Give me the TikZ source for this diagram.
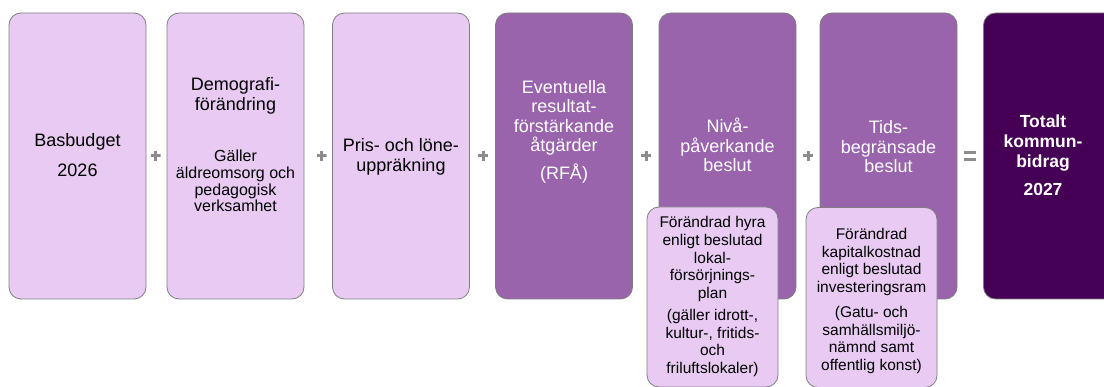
\documentclass[tikz,border=0pt]{standalone}
\usepackage{fontspec}
\setmainfont{Liberation Sans}
\definecolor{lilac}{HTML}{E8CAF3}
\definecolor{midpurple}{HTML}{9A64AD}
\definecolor{darkpurple}{HTML}{450055}
\definecolor{edgegray}{HTML}{7F7F7F}
\definecolor{signgray}{HTML}{8C8C8C}
\begin{document}
\begin{tikzpicture}[x=1pt,y=-1pt,
  mainbox/.style={rounded corners=12pt, draw=edgegray, line width=0.8pt, minimum width=137pt, minimum height=286pt, inner sep=0pt},
  lightbox/.style={mainbox, fill=lilac},
  midbox/.style={mainbox, fill=midpurple},
  darkbox/.style={mainbox, fill=darkpurple},
  subbox/.style={rounded corners=12pt, draw=edgegray, line width=0.8pt, fill=lilac, minimum width=131pt, minimum height=180pt, inner sep=0pt},
  bigtxt/.style={align=center, font=\fontsize{18}{19.5}\selectfont, inner sep=0pt},
  midtxt/.style={align=center, font=\fontsize{16}{16.8}\selectfont, inner sep=0pt},
  smalltxt/.style={align=center, font=\fontsize{15.5}{17.7}\selectfont, inner sep=0pt},
  plussign/.style={minimum size=10pt, inner sep=0pt, path picture={\draw[line width=3pt, signgray] (path picture bounding box.north) -- (path picture bounding box.south) (path picture bounding box.west) -- (path picture bounding box.east);}},
  eqsign/.style={minimum width=12pt, minimum height=10pt, inner sep=0pt, path picture={\draw[line width=3pt, signgray] ([yshift=-1.5pt]path picture bounding box.north west) -- ([yshift=-1.5pt]path picture bounding box.north east) ([yshift=1.5pt]path picture bounding box.south west) -- ([yshift=1.5pt]path picture bounding box.south east);}}
]
\useasboundingbox (0,0) rectangle (1104,387);
\begin{scope}
\clip (0,0) rectangle (1104,387);
% main boxes
\node[lightbox] (b1) at (77.5,156) {};
\node[lightbox] (b2) at (235.5,156) {};
\node[lightbox] (b3) at (401,156) {};
\node[midbox] (b4) at (564,156) {};
\node[midbox] (b5) at (727.5,156) {};
\node[midbox] (b6) at (888.5,156) {};
\node[darkbox] (b7) at (1052,156) {};
% sub boxes
\node[subbox] (s1) at (712.5,297) {};
\node[subbox] (s2) at (871.5,297.5) {};
\end{scope}
% texts
\node[bigtxt] (t1a) at (77.5,142) {Basbudget};
\node[bigtxt] (t1b) at (77.5,170) {2026};
\node[bigtxt] (t2a) at (235.5,96) {Demografi-\\förändring};
\node[midtxt] (t2b) at (235.5,181) {Gäller\\äldreomsorg och\\pedagogisk\\verksamhet};
\node[bigtxt] (t3) at (401,157) {Pris- och löne-\\uppräkning};
\node[bigtxt, text=white] (t4a) at (564,118) {Eventuella\\resultat-\\förstärkande\\åtgärder};
\node[bigtxt, text=white] (t4b) at (564,174) {(RFÅ)};
\node[bigtxt, text=white] (t5) at (727.5,145) {Nivå-\\påverkande\\beslut};
\node[bigtxt, text=white] (t6) at (888.5,147) {Tids-\\begränsade\\beslut};
\node[bigtxt, text=white, font=\bfseries\fontsize{17.5}{19.8}\selectfont] (t7a) at (1043,143) {Totalt\\kommun-\\bidrag};
\node[bigtxt, text=white, font=\bfseries\fontsize{17.5}{19.8}\selectfont] (t7b) at (1043,189) {2027};
\node[smalltxt] (s1a) at (712.5,259) {Förändrad hyra\\enligt beslutad\\lokal-\\försörjnings-\\plan};
\node[smalltxt] (s1b) at (712.5,343) {(gäller idrott-,\\kultur-, fritids-\\och\\friluftslokaler)};
\node[smalltxt] (s2a) at (871.5,262) {Förändrad\\kapitalkostnad\\enligt beslutad\\investeringsram};
\node[smalltxt] (s2b) at (871.5,340) {(Gatu- och\\samhällsmiljö-\\nämnd samt\\offentlig konst)};
% operators
\node[plussign] (p1) at (155.5,156) {};
\node[plussign] (p2) at (321.5,156) {};
\node[plussign] (p3) at (483,156) {};
\node[plussign] (p4) at (646,156) {};
\node[plussign] (p5) at (808,156) {};
\node[eqsign] (eq) at (970,156) {};
\end{tikzpicture}
\end{document}
